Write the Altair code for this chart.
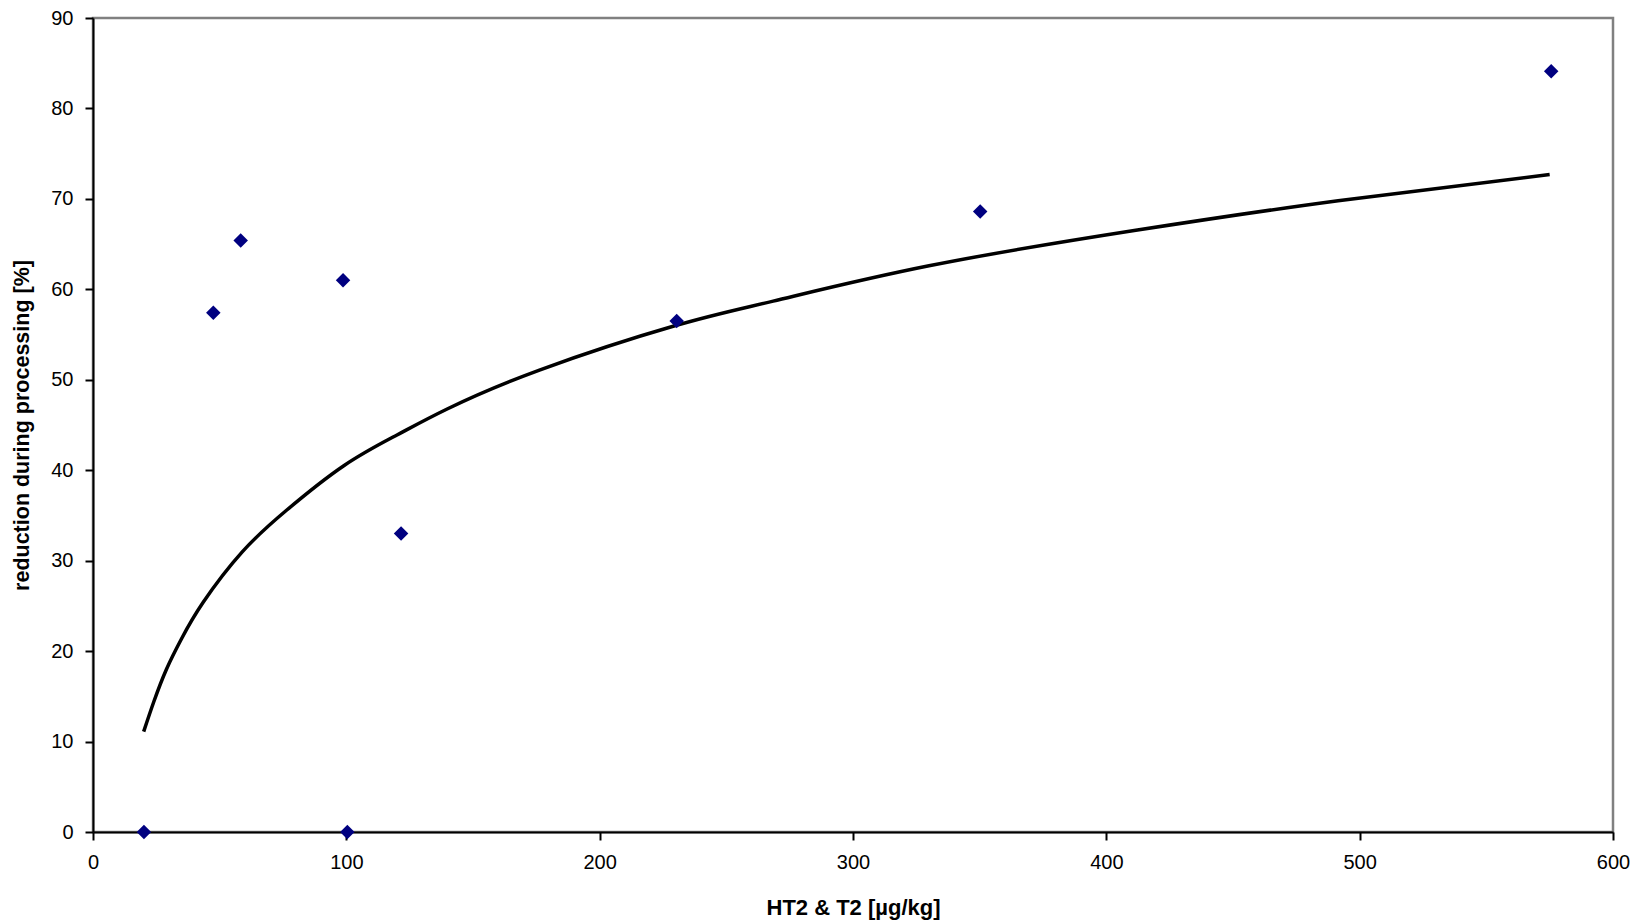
import altair as alt
import pandas as pd

pts_x = [20.1, 47.5, 58.3, 98.7, 100.4, 121.6, 230.4, 350.2, 575.6]
pts_y = [0.0, 57.4, 65.4, 61.0, 0.0, 33.0, 56.5, 68.6, 84.1]

# Trend line
trend_x = [20, 24, 29, 35, 43.5, 59, 76.5, 99, 120, 140, 176.5, 230, 268.5, 330, 411, 491.5, 575]
trend_y = [11.1, 14.4, 18.0, 21.4, 25.4, 31.0, 35.6, 40.5, 43.9, 46.8, 51.1, 56.0, 58.7, 62.6, 66.5, 69.8, 72.7]

x_ticks = [0, 100, 200, 300, 400, 500, 600]
y_ticks = [0, 10, 20, 30, 40, 50, 60, 70, 80, 90]

pts = pd.DataFrame({"x": pts_x, "y": pts_y})
trend = pd.DataFrame({"x": trend_x, "y": trend_y})

FONT = "Liberation Sans"
H = 814

x_enc = alt.X(
    "x:Q",
    scale=alt.Scale(domain=[0, 600], nice=False, zero=False),
    axis=alt.Axis(
        values=x_ticks,
        title="HT2 & T2 [µg/kg]",
        titleFontSize=22,
        titleFontWeight="bold",
        titleFont=FONT,
        titleColor="#000000",
        titleX=760,
        titleY=75,
        titleBaseline="middle",
        labelFontSize=20,
        labelFont=FONT,
        labelColor="#000000",
        labelPadding=12,
        labelFlush=False,
        tickSize=8,
        tickWidth=2,
        tickColor="#000000",
        domainColor="#000000",
        domainWidth=2,
        grid=False,
    ),
)
y_enc = alt.Y(
    "y:Q",
    scale=alt.Scale(domain=[0, 90], nice=False, zero=False),
    axis=alt.Axis(
        values=y_ticks,
        title="reduction during processing [%]",
        titleFontSize=21.5,
        titleFontWeight="bold",
        titleFont=FONT,
        titleColor="#000000",
        titleX=-71,
        titleY=H / 2,
        titleAngle=-90,
        titleBaseline="middle",
        labelFontSize=20,
        labelFont=FONT,
        labelColor="#000000",
        labelPadding=12,
        labelFlush=False,
        tickSize=8,
        tickWidth=2,
        tickColor="#000000",
        domainColor="#000000",
        domainWidth=2,
        grid=False,
    ),
)

line = alt.Chart(trend).mark_line(
    color="#000000", strokeWidth=3.5, interpolate="natural"
).encode(x=x_enc, y=y_enc)

points = alt.Chart(pts).mark_point(
    shape="diamond", filled=True, color="#000080", size=210, opacity=1
).encode(x="x:Q", y="y:Q")

chart = (
    alt.layer(line, points)
    .properties(
        width=1520,
        height=H,
        autosize=alt.AutoSizeParams(type="none"),
        padding={"left": 85, "top": 10, "right": 24, "bottom": 92},
        background="#ffffff",
    )
    .configure_view(stroke="#808080", strokeWidth=2.5)
)

chart.save("out.html", embed_options={"renderer": "svg", "actions": False})
